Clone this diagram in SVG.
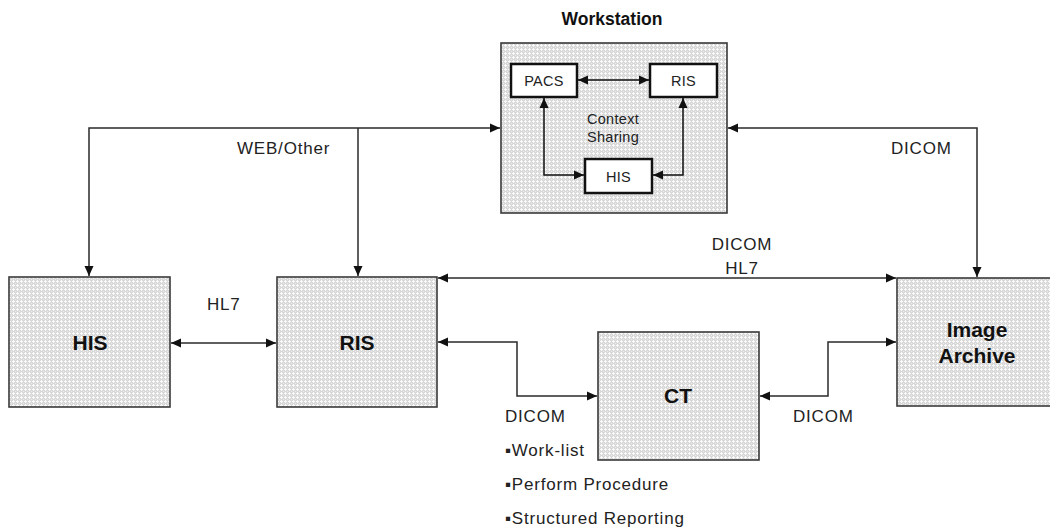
<svg xmlns="http://www.w3.org/2000/svg" width="1050" height="531" viewBox="0 0 1050 531">
<defs>
<pattern id="dots" width="4" height="4" patternUnits="userSpaceOnUse">
<rect width="4" height="4" fill="#d8d8d8"/>
<rect x="1" y="0" width="1" height="3" fill="#fafafa"/>
<rect x="0" y="1" width="3" height="1" fill="#fafafa"/>
<rect x="3" y="3" width="1" height="1" fill="#ebebeb"/>
</pattern>
<marker id="ah" viewBox="0 0 10 10" refX="10" refY="5" markerWidth="10" markerHeight="10" markerUnits="userSpaceOnUse" orient="auto-start-reverse">
<path d="M0,0.5 L10,5 L0,9.5 Z" fill="#111"/>
</marker>
</defs>
<style>
.big{fill:url(#dots);stroke:#3a3a3a;stroke-width:1.6}
.small{fill:#ffffff;stroke:#111;stroke-width:2.5}
.lbl{font-family:"Liberation Sans",Arial,sans-serif;font-size:17px;letter-spacing:0.8px;fill:#222}
.sl{font-family:"Liberation Sans",Arial,sans-serif;font-size:14.5px;letter-spacing:0.3px;fill:#222}
.bl{font-family:"Liberation Sans",Arial,sans-serif;font-size:21px;font-weight:bold;fill:#111;text-anchor:middle}
.c{fill:none;stroke:#2a2a2a;stroke-width:1.5}
.ci{fill:none;stroke:#111;stroke-width:1.5}
</style>
<rect width="1050" height="531" fill="#ffffff"/>

<g id="workstation">
<text x="612" y="25" font-family="Liberation Sans, Arial, sans-serif" font-size="17.5" font-weight="bold" fill="#111" text-anchor="middle">Workstation</text>
<rect class="big" x="501" y="43" width="226" height="170"/>
<text class="sl" x="613" y="124" text-anchor="middle">Context</text>
<text class="sl" x="613" y="142" text-anchor="middle">Sharing</text>
</g>
<g id="ws-pacs">
<rect class="small" x="511" y="64" width="66" height="33"/>
<text class="sl" x="544" y="85.5" text-anchor="middle">PACS</text>
</g>
<g id="ws-ris">
<rect class="small" x="650" y="64" width="67" height="33"/>
<text class="sl" x="683.5" y="85.5" text-anchor="middle">RIS</text>
</g>
<g id="ws-his">
<rect class="small" x="585" y="159" width="67" height="34"/>
<text class="sl" x="618.5" y="181.5" text-anchor="middle">HIS</text>
</g>

<g id="his">
<rect class="big" x="9" y="277" width="161" height="130"/>
<text class="bl" x="90" y="350">HIS</text>
</g>
<g id="ris">
<rect class="big" x="277" y="277" width="160" height="130"/>
<text class="bl" x="357" y="350">RIS</text>
</g>
<g id="ct">
<rect class="big" x="598" y="332" width="161" height="128"/>
<text class="bl" x="678" y="403">CT</text>
</g>
<g id="archive">
<rect class="big" x="897" y="278" width="162" height="128"/>
<text class="bl" x="977" y="337">Image</text>
<text class="bl" x="977" y="363">Archive</text>
</g>

<g id="connectors">
<line class="ci" x1="578" y1="80" x2="649" y2="80" marker-start="url(#ah)" marker-end="url(#ah)"/>
<polyline class="ci" points="544,98 544,175 584,175" marker-start="url(#ah)" marker-end="url(#ah)"/>
<polyline class="ci" points="683,98 683,175 653,175" marker-start="url(#ah)" marker-end="url(#ah)"/>
<polyline class="c" points="89,276 89,128 500,128" marker-start="url(#ah)" marker-end="url(#ah)"/>
<line class="c" x1="358" y1="128" x2="358" y2="276" marker-end="url(#ah)"/>
<polyline class="c" points="728,128 977,128 977,277" marker-start="url(#ah)" marker-end="url(#ah)"/>
<line class="c" x1="171" y1="343" x2="276" y2="343" marker-start="url(#ah)" marker-end="url(#ah)"/>
<line class="c" x1="438" y1="278" x2="896" y2="278" marker-start="url(#ah)" marker-end="url(#ah)"/>
<polyline class="c" points="438,342 517,342 517,396 597,396" marker-start="url(#ah)" marker-end="url(#ah)"/>
<polyline class="c" points="760,396 828,396 828,342 896,342" marker-start="url(#ah)" marker-end="url(#ah)"/>
</g>

<g id="labels">
<text class="lbl" x="237" y="154">WEB/Other</text>
<text class="lbl" x="891" y="154">DICOM</text>
<text class="lbl" x="742" y="250" text-anchor="middle">DICOM</text>
<text class="lbl" x="742" y="274" text-anchor="middle">HL7</text>
<text class="lbl" x="207" y="310">HL7</text>
<text class="lbl" x="505" y="422">DICOM</text>
<text class="lbl" x="505" y="456">▪Work-list</text>
<text class="lbl" x="505" y="490">▪Perform Procedure</text>
<text class="lbl" x="505" y="524">▪Structured Reporting</text>
<text class="lbl" x="793" y="422">DICOM</text>
</g>
</svg>
